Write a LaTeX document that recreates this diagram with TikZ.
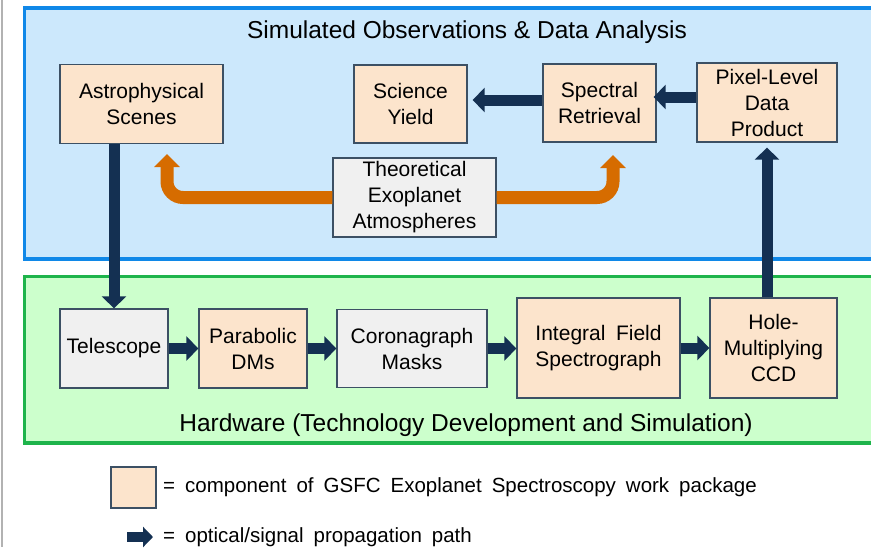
\documentclass[tikz,border=0pt]{standalone}
\usepackage{fontspec}
\setmainfont{Liberation Sans}
\usetikzlibrary{arrows.meta,calc}
\definecolor{navy}{RGB}{20,48,82}
\definecolor{peach}{RGB}{252,228,204}
\definecolor{lgray}{RGB}{240,240,240}
\definecolor{bluefill}{RGB}{204,232,252}
\definecolor{blueline}{RGB}{16,136,232}
\definecolor{greenfill}{RGB}{204,255,204}
\definecolor{greenline}{RGB}{30,180,75}
\definecolor{boxline}{RGB}{60,80,100}
\definecolor{orangearr}{RGB}{214,108,0}
\begin{document}
\begin{tikzpicture}[x=1pt,y=-1pt,
  comp/.style={draw=boxline,line width=1.3pt,fill=peach,align=center,inner sep=0pt,
    font=\fontsize{21}{26}\selectfont},
  other/.style={comp,fill=lgray},
  patharrow/.style={draw=navy,line width=11pt,-{Triangle[width=24pt,length=12pt]}},
  theoryarrow/.style={draw=orangearr,line width=13pt,rounded corners=16pt,
    -{Triangle[width=25pt,length=13pt]}},
  title/.style={inner sep=0pt,font=\fontsize{24.5}{29}\selectfont},
  legend/.style={inner sep=0pt,anchor=west,font=\fontsize{20.5}{24}\selectfont},
  panel/.style={line width=3.5pt}
]
\useasboundingbox (0,0) rectangle (871,547);
\clip (0,0) rectangle (871,547);
\fill[white] (0,0) rectangle (871,547);
\draw[gray!60,line width=1.5pt] (2,0) -- (2,547);

% panels
\draw[panel,draw=blueline,fill=bluefill] (24.5,8) rectangle (885,259);
\draw[panel,draw=greenline,fill=greenfill] (24.5,276.5) rectangle (885,443);

\node[title] (simtitle) at (467,32.5) {Simulated Observations \& Data Analysis};
\node[title] (hwtitle) at (466,425.5) {Hardware (Technology Development and Simulation)};

% upper panel nodes
\node[comp,minimum width=163pt,minimum height=79pt] (astro) at (141.5,104) {Astrophysical\\Scenes};
\node[comp,minimum width=113pt,minimum height=78pt] (sci) at (410.5,104) {Science\\Yield};
\node[comp,minimum width=113pt,minimum height=78pt] (spec) at (599.5,103) {Spectral\\Retrieval};
\node[comp,minimum width=140pt,minimum height=79pt] (pixel) at (767,102.5) {Pixel-Level\\Data\\Product};
\node[other,minimum width=163pt,minimum height=79pt] (theo) at (414.5,197.5) {Theoretical\\Exoplanet\\Atmospheres};

% lower panel nodes
\node[other,minimum width=108pt,minimum height=79pt] (tel) at (114,348.5) {Telescope};
\node[comp,minimum width=108pt,minimum height=79pt] (para) at (253,348.5) {Parabolic\\DMs};
\node[other,minimum width=150pt,minimum height=78pt] (coro) at (412,348.5) {Coronagraph\\Masks};
\node[comp,minimum width=163pt,minimum height=100pt] (ifs) at (598.5,348) {Integral\hspace{0.5em}Field\\Spectrograph};
\node[comp,minimum width=127pt,minimum height=100pt] (ccd) at (773.5,348) {Hole-\\Multiplying\\CCD};

% optical / signal path
\draw[patharrow] (tel.north |- astro.south) -- (tel.north);
\draw[patharrow] (tel.east) -- (tel.east -| para.west);
\draw[patharrow] (para.east) -- (para.east -| coro.west);
\draw[patharrow] (coro.east) -- (coro.east -| ifs.west);
\draw[patharrow] (ifs.east) -- (ifs.east -| ccd.west);
\coordinate (c1) at ($(ccd.north)+(-6.5,0)$);
\draw[patharrow,shorten >=5pt] (c1) -- (c1 |- pixel.south);
\coordinate (p1) at ($(pixel.west)+(0,-5.5)$);
\draw[patharrow,shorten >=-3pt] (p1) -- (p1 -| spec.east);
\coordinate (s1) at ($(spec.west)+(0,-3)$);
\draw[patharrow,shorten >=5pt] (s1) -- (s1 -| sci.east);

% theory arrows
\coordinate (oL) at (167,154);
\coordinate (oR) at (613,155);
\draw[theoryarrow] (theo.west) -| (oL);
\draw[theoryarrow] (theo.east) -| (oR);

% legend
\node[comp,minimum width=45pt,minimum height=41pt] (legbox) at (133.5,487.5) {};
\node[legend] (legtext1) at (163,487) {\spaceskip=10pt = component of GSFC Exoplanet Spectroscopy work package};
\coordinate (la) at (127,537);
\node[legend] (legtext2) at (163,537) {\spaceskip=10pt = optical/signal propagation path};
\draw[draw=navy,line width=10pt,-{Triangle[width=20pt,length=10pt]},shorten >=10pt] (la) -- (legtext2.west);
\end{tikzpicture}
\end{document}
